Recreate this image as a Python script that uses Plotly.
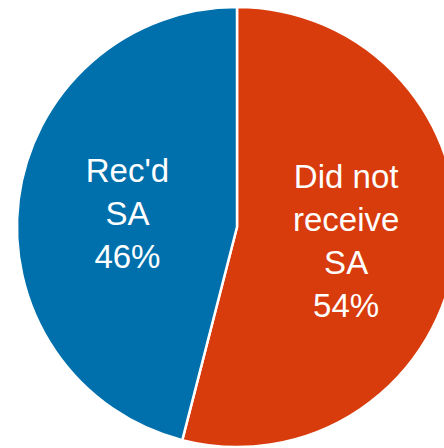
import plotly.graph_objects as go

labels = ["Did not<br>receive<br>SA", "Rec'd<br>SA"]
values = [54, 46]
colors = ["#D83B0C", "#0070AD"]

W, H = 480, 448
cx, cy, r = 237, 227, 220

fig = go.Figure(go.Pie(
    labels=labels,
    values=values,
    sort=False,
    direction="clockwise",
    rotation=0,
    marker=dict(colors=colors, line=dict(color="white", width=2.5)),
    texttemplate="%{label}<br>%{percent:.0%}",
    textposition="inside",
    insidetextorientation="horizontal",
    textfont=dict(family="Liberation Sans, Arial, sans-serif", size=33, color="white"),
    hoverinfo="skip",
    showlegend=False,
    domain=dict(x=[(cx - r) / W, (cx + r) / W], y=[1 - (cy + r) / H, 1 - (cy - r) / H]),
))

fig.update_layout(
    width=W, height=H,
    margin=dict(l=0, r=0, t=0, b=0),
    paper_bgcolor="white",
    plot_bgcolor="white",
)

fig.write_html(
    "out.html",
    config={"displayModeBar": False},
    post_script="document.body.style.margin='0';document.body.style.overflow='hidden';document.documentElement.style.overflow='hidden';",
)
